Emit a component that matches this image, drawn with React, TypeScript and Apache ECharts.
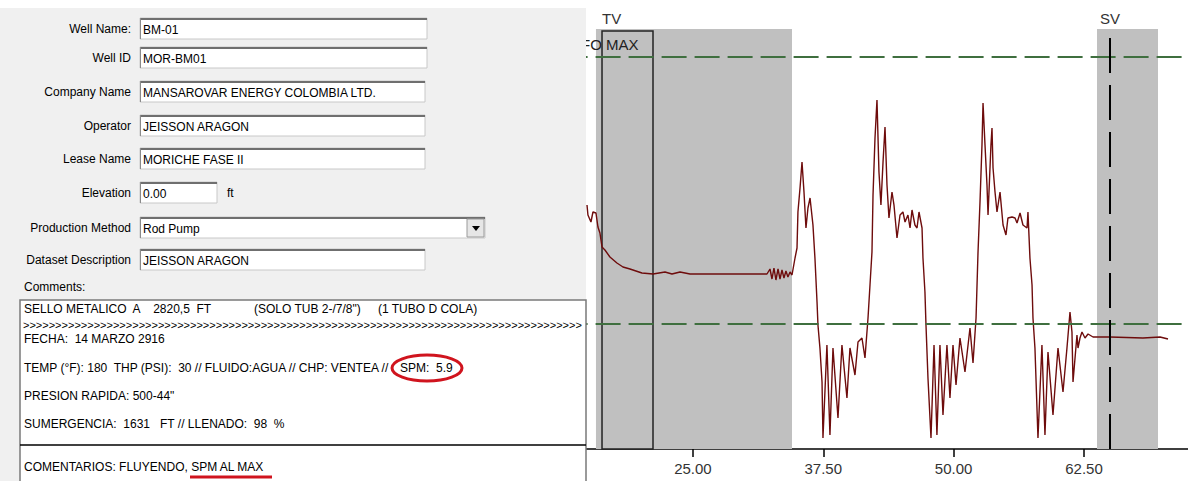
import React, { useEffect, useRef } from "react";
import * as echarts from "echarts";

// ---- chart data (time, load) ----
const tracePoints: [number, number][] = [
  [14.84, 244], [14.93, 234], [15.22, 227], [15.41, 237], [15.70, 236], [15.89, 222], [16.08, 216],
  [16.28, 202], [16.56, 199], [17.04, 192], [17.71, 186], [18.29, 182], [18.96, 180], [20.11, 176],
  [21.17, 175], [22.32, 177], [22.99, 175], [23.76, 177], [24.72, 175], [32.10, 175],
  [32.39, 180], [32.58, 170], [32.77, 181], [32.96, 169], [33.16, 180], [33.35, 170], [33.54, 179],
  [33.73, 171], [33.92, 178], [34.11, 172], [34.31, 177], [34.50, 174],
  [34.79, 191], [34.98, 201], [35.07, 237], [35.27, 261], [35.46, 287], [35.65, 257], [35.84, 221],
  [36.03, 241], [36.23, 251], [36.51, 224], [36.70, 191], [36.90, 147], [36.99, 124], [37.18, 101],
  [37.38, 67], [37.47, 11],
  [37.85, 104], [38.14, 14], [38.43, 101], [38.91, 31], [39.29, 104], [39.77, 51], [40.06, 101],
  [40.54, 74], [40.83, 107], [41.21, 111], [41.50, 91], [41.79, 131], [41.98, 164], [42.17, 197],
  [42.27, 254], [42.46, 311], [42.65, 349], [42.84, 277], [43.03, 244], [43.23, 287], [43.42, 322],
  [43.61, 264], [43.80, 231], [44.09, 257], [44.28, 244], [44.57, 211], [44.86, 234], [45.14, 237],
  [45.34, 227], [45.62, 234], [45.82, 221], [46.01, 239], [46.29, 224], [46.49, 221], [46.68, 237],
  [46.97, 221], [47.06, 191], [47.25, 157], [47.35, 124], [47.54, 71], [47.83, 11],
  [48.12, 104], [48.40, 14], [48.69, 104], [48.98, 34], [49.36, 104], [49.65, 51], [49.94, 104],
  [50.23, 64], [50.61, 111], [51.09, 77], [51.57, 121], [51.86, 86], [52.15, 131], [52.34, 197],
  [52.53, 247], [52.72, 304], [52.82, 346], [53.01, 304], [53.20, 264], [53.30, 234], [53.58, 304],
  [53.68, 321], [53.78, 281], [53.97, 257], [54.16, 237], [54.45, 257], [54.74, 224], [55.02, 214],
  [55.21, 231], [55.60, 232], [55.89, 231], [56.08, 226], [56.37, 236], [56.65, 224], [57.04, 221],
  [57.13, 237], [57.32, 191], [57.52, 164], [57.61, 131], [57.80, 101], [58.09, 11],
  [58.47, 104], [58.76, 14], [59.05, 97], [59.53, 34], [60.01, 101], [60.49, 57], [60.87, 101],
  [61.16, 137], [61.35, 117], [61.45, 67], [61.83, 114], [61.93, 101], [62.12, 111], [62.31, 117],
  [62.60, 111], [62.89, 115], [63.37, 112], [65.00, 112], [68.16, 111], [69.79, 112], [70.56, 110],
];

const xMin = 12.5;
const xMax = 75;
const xInterval = 12.5;
const yMax = 449;

const grayBands: [number, number][] = [[15.70, 34.50], [63.75, 69.60]];
const bandTop = 420;
const tvBox = { from: 16.28, to: 21.17, top: 418 };
const refLevels = [392, 125];
const svPosition = 65.0;

// ---- form data ----
const fieldLabels = ["Well Name:", "Well ID", "Company Name", "Operator", "Lease Name", "Elevation", "Production Method", "Dataset Description"];
const fieldValues = ["BM-01", "MOR-BM01", "MANSAROVAR ENERGY COLOMBIA LTD.", "JEISSON ARAGON", "MORICHE FASE II", "0.00", "Rod Pump", "JEISSON ARAGON"];
const fieldTops = [18, 47, 81, 115, 148, 182, 217, 249];
const fieldRights = [427, 427, 425, 425, 425, 217, 485, 425];

const commentLines: { text: string; x: number; y: number }[] = [
  { text: "SELLO METALICO  A    2820,5  FT", x: 24, y: 309 },
  { text: "(SOLO TUB 2-/7/8\")", x: 254, y: 309 },
  { text: "(1 TUBO D COLA)", x: 378, y: 309 },
  { text: "FECHA:  14 MARZO 2916", x: 24, y: 339 },
  { text: "TEMP (°F): 180  THP (PSI):  30 // FLUIDO:AGUA // CHP: VENTEA //", x: 24, y: 368 },
  { text: "SPM:  5.9", x: 400, y: 368 },
  { text: "PRESION RAPIDA: 500-44\"", x: 24, y: 396 },
  { text: "SUMERGENCIA:  1631   FT // LLENADO:  98  %", x: 24, y: 424 },
  { text: "COMENTARIOS: FLUYENDO, SPM AL MAX", x: 24, y: 467 },
];

const FONT = "'Liberation Sans', Arial, sans-serif";

function buildForm(): any[] {
  const els: any[] = [];
  const Z = 100;
  els.push({ type: "rect", z: Z, shape: { x: 0, y: 0, width: 586, height: 481 }, style: { fill: "#f0f0f0" } });
  els.push({ type: "rect", z: Z, shape: { x: 0, y: 0, width: 586, height: 8 }, style: { fill: "#ffffff" } });
  fieldLabels.forEach((lab, i) => {
    const top = fieldTops[i];
    const right = fieldRights[i];
    const h = 21;
    els.push({
      type: "text", z: Z + 1,
      style: { text: lab, x: 131, y: top + h / 2, align: "right", verticalAlign: "middle", fill: "#000", font: `12px ${FONT}` },
    });
    els.push({ type: "rect", z: Z + 1, shape: { x: 140, y: top, width: right - 140, height: h }, style: { fill: "#ffffff", stroke: "#c8c8c8", lineWidth: 1 } });
    els.push({ type: "line", z: Z + 2, shape: { x1: 140, y1: top + 1, x2: right, y2: top + 1 }, style: { stroke: "#6f6f6f", lineWidth: 2 } });
    els.push({ type: "line", z: Z + 2, shape: { x1: 140.5, y1: top, x2: 140.5, y2: top + h }, style: { stroke: "#8a8a8a", lineWidth: 1 } });
    els.push({
      type: "text", z: Z + 3,
      style: { text: fieldValues[i], x: 143, y: top + h / 2 + 1, align: "left", verticalAlign: "middle", fill: "#000", font: `12px ${FONT}` },
    });
  });
  els.push({ type: "text", z: Z + 1, style: { text: "ft", x: 227, y: 193, verticalAlign: "middle", fill: "#000", font: `12px ${FONT}` } });
  els.push({ type: "rect", z: Z + 3, shape: { x: 467, y: 219, width: 17, height: 18 }, style: { fill: "#e6e6e6", stroke: "#9a9a9a", lineWidth: 1 } });
  els.push({ type: "polygon", z: Z + 4, shape: { points: [[472, 226], [480, 226], [476, 231]] }, style: { fill: "#000" } });
  els.push({ type: "text", z: Z + 1, style: { text: "Comments:", x: 24, y: 287, verticalAlign: "middle", fill: "#000", font: `12px ${FONT}` } });
  els.push({ type: "rect", z: Z + 1, shape: { x: 20, y: 300, width: 566, height: 200 }, style: { fill: "#ffffff", stroke: "#7a7a7a", lineWidth: 1.5 } });
  els.push({
    type: "text", z: Z + 2,
    style: { text: ">".repeat(200), x: 23, y: 325, verticalAlign: "middle", fill: "#000", font: `11px ${FONT}`, width: 560, overflow: "truncate", ellipsis: "" },
  });
  commentLines.forEach((c) => {
    els.push({ type: "text", z: Z + 2, style: { text: c.text, x: c.x, y: c.y, verticalAlign: "middle", fill: "#000", font: `12px ${FONT}` } });
  });
  els.push({ type: "line", z: Z + 2, shape: { x1: 20, y1: 445, x2: 586, y2: 445 }, style: { stroke: "#000", lineWidth: 1.5 } });
  els.push({ type: "ellipse", z: Z + 3, shape: { cx: 427, cy: 368, rx: 35, ry: 13 }, style: { fill: "none", stroke: "#d0141e", lineWidth: 3 } });
  els.push({ type: "line", z: Z + 3, shape: { x1: 190, y1: 477, x2: 272, y2: 477 }, style: { stroke: "#d0141e", lineWidth: 3 } });
  els.push({ type: "text", z: 50, style: { text: "TV", x: 602, y: 18, verticalAlign: "middle", fill: "#333", font: `15px ${FONT}` } });
  els.push({ type: "text", z: 50, style: { text: "SV", x: 1100, y: 18, verticalAlign: "middle", fill: "#333", font: `15px ${FONT}` } });
  els.push({ type: "text", z: 50, style: { text: "FO MAX", x: 581, y: 44, verticalAlign: "middle", fill: "#222", font: `15px ${FONT}` } });
  return els;
}

export default function App() {
  const ref = useRef<HTMLDivElement>(null);
  useEffect(() => {
    if (!ref.current) return;
    const chart = echarts.init(ref.current, undefined, { renderer: "svg" });
    const option: any = {
      animation: false,
      backgroundColor: "#ffffff",
      grid: { left: 562.6, top: 0, width: 651.7, height: 449, containLabel: false, outerBoundsMode: "none" },
      xAxis: {
        type: "value",
        min: xMin,
        max: xMax,
        interval: xInterval,
        axisLine: { show: true, lineStyle: { color: "#000", width: 1.5 } },
        axisTick: { show: true, length: 8, lineStyle: { color: "#000", width: 1.5 } },
        axisLabel: {
          formatter: (v: number) => v.toFixed(2),
          fontSize: 15,
          color: "#333",
          fontFamily: FONT,
          margin: 12,
          showMinLabel: false,
          showMaxLabel: false,
        },
        splitLine: { show: false },
      },
      yAxis: { type: "value", min: 0, max: yMax, show: false, splitLine: { show: false } },
      graphic: { elements: buildForm() },
      series: [
        {
          name: "bands",
          type: "line",
          data: [],
          z: 1,
          markArea: {
            silent: true,
            itemStyle: { color: "#c0c0c0" },
            data: grayBands.map(([a, b]) => [{ xAxis: a, yAxis: 0 }, { xAxis: b, yAxis: bandTop }]),
          },
        },
        {
          name: "refs",
          type: "line",
          data: [],
          z: 2,
          markLine: {
            silent: true,
            symbol: "none",
            label: { show: false },
            data: [
              ...refLevels.map((v) => ({ yAxis: v, lineStyle: { color: "#3f6f3f", width: 2, type: [25, 8] } })),
              [
                { coord: [svPosition, 0], lineStyle: { color: "#000", width: 2, type: [35, 12] } },
                { coord: [svPosition, bandTop] },
              ],
            ],
          },
          markArea: {
            silent: true,
            itemStyle: { color: "rgba(0,0,0,0)", borderColor: "#222", borderWidth: 1.5 },
            data: [[{ xAxis: tvBox.from, yAxis: 0 }, { xAxis: tvBox.to, yAxis: tvBox.top }]],
          },
        },
        {
          name: "trace",
          type: "line",
          z: 3,
          showSymbol: false,
          symbol: "none",
          data: tracePoints,
          lineStyle: { color: "#6e0c0c", width: 1.4 },
        },
      ],
    };
    chart.setOption(option);
    return () => chart.dispose();
  }, []);
  return <div ref={ref} style={{ position: "fixed", left: 0, top: 0, width: 1240, height: 481 }} />;
}
